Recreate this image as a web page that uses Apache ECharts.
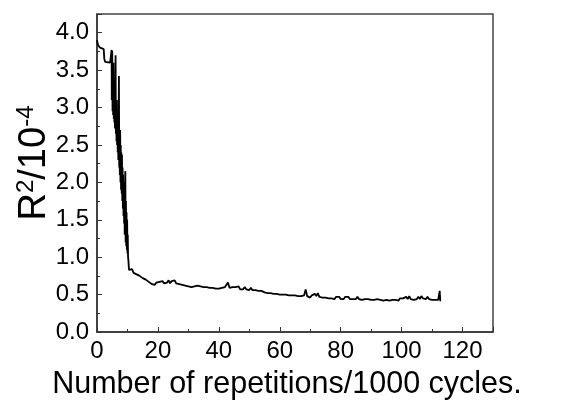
<!DOCTYPE html>
<html>
<head>
<meta charset="utf-8">
<script src="https://cdn.jsdelivr.net/npm/echarts@6/dist/echarts.min.js"></script>
<style>html,body{margin:0;padding:0;background:#fff}#c{width:575px;height:401px}</style>
</head>
<body>
<div id="c"></div>
<script>
// Initial plateau segment [x, y]
const startSegment = [[0,3.90],[0.3,3.84],[1.0,3.80],[1.5,3.79],[2.2,3.78],[2.4,3.65],[2.7,3.61],[4.3,3.60],[4.6,3.62],[4.8,3.77]];
// Rapid oscillating drop [x, y]
const dropSegment = [[4.85,3.1],[4.9,3.5],[5.0,3.76],[5.1,2.95],[5.2,3.5],[5.3,2.9],[5.4,3.6],[5.5,2.85],[5.6,3.3],[5.7,2.8],[5.8,3.3],[5.9,2.72],[6.0,3.2],[6.1,3.70],[6.2,2.65],[6.3,3.0],[6.4,2.55],[6.5,3.1],[6.6,2.5],[6.7,2.95],[6.8,2.4],[6.9,2.9],[7.0,2.3],[7.1,2.8],[7.2,3.42],[7.3,2.2],[7.4,2.6],[7.5,2.1],[7.6,2.7],[7.7,2.0],[7.8,2.5],[7.9,1.9],[8.0,2.4],[8.1,1.85],[8.2,2.37],[8.3,1.75],[8.4,2.2],[8.5,1.65],[8.6,2.1],[8.7,1.55],[8.8,2.0],[8.9,1.45],[9.0,1.9],[9.1,1.3],[9.2,1.8],[9.3,2.15],[9.4,1.2],[9.5,1.75],[9.6,1.15],[9.7,1.6],[9.8,1.1],[9.9,1.5],[10.0,1.05],[10.1,1.3],[10.2,1.0],[10.3,0.96],[10.5,0.83],[10.8,0.81]];
// Slow tail: x from tailStart, every tailStep
const tailStart = 11.0;
const tailStep = 0.5;
const tailValues = [
0.81,0.84,0.79,0.81,0.77,0.79,0.75,0.77,0.72,0.74,0.70,0.72,0.67,0.69,0.64,0.66,0.63,0.66,
0.64,0.67,0.65,0.68,0.65,0.67,0.66,0.69,0.65,0.68,0.66,0.69,0.65,0.67,0.64,0.66,0.63,0.65,0.62,0.64,
0.61,0.63,0.60,0.62,0.61,0.63,0.62,0.64,0.61,0.63,0.60,0.62,0.60,0.62,0.59,0.61,0.59,0.61,0.58,0.60,
0.58,0.60,0.59,0.61,0.60,0.63,0.66,0.59,0.58,0.60,0.58,0.60,0.58,0.61,0.57,0.59,0.57,0.60,0.57,0.59,
0.56,0.59,0.56,0.58,0.56,0.58,0.55,0.57,0.55,0.57,0.53,0.55,0.52,0.54,0.52,0.54,0.51,0.53,0.51,0.53,
0.50,0.52,0.50,0.52,0.50,0.52,0.49,0.51,0.49,0.51,0.49,0.51,0.48,0.50,0.48,0.50,0.49,0.57,0.48,0.47,
0.46,0.49,0.47,0.51,0.48,0.52,0.47,0.49,0.46,0.48,0.46,0.48,0.45,0.47,0.45,0.47,0.44,0.47,0.45,0.47,
0.44,0.46,0.44,0.47,0.45,0.47,0.44,0.46,0.44,0.46,0.44,0.47,0.44,0.46,0.43,0.45,0.44,0.46,0.44,0.46,
0.43,0.45,0.43,0.45,0.44,0.46,0.43,0.45,0.42,0.44,0.43,0.45,0.42,0.44,0.43,0.45,0.43,0.45,0.42,0.45,
0.43,0.45,0.44,0.47,0.44,0.48,0.44,0.46,0.43,0.45,0.44,0.47,0.44,0.48,0.45,0.47,0.44,0.47,0.44,0.46,
0.43,0.45,0.43,0.45,0.43,0.55
];
const endSegment = [[112.7,0.41]];

const xTicks = [0,20,40,60,80,100,120];
const yTicks = [0.0,0.5,1.0,1.5,2.0,2.5,3.0,3.5,4.0];

const data = startSegment.concat(dropSegment,
  tailValues.map((v,i)=>[tailStart + i*tailStep, v]), endSegment);

const chart = echarts.init(document.getElementById('c'), null, {renderer:'canvas'});
const font = 'Liberation Sans, Arial, sans-serif';
chart.setOption({
  animation:false,
  backgroundColor:'#fff',
  grid:{left:97,right:82,top:14,bottom:69,containLabel:false,outerBoundsMode:'none',
    show:true,borderColor:'#444',borderWidth:1.5,backgroundColor:'transparent'},
  xAxis:{
    type:'value',min:0,max:130,interval:20,
    name:'Number of repetitions/1000 cycles.',nameLocation:'middle',nameGap:37,
    nameTextStyle:{fontFamily:font,fontSize:30.5,color:'#000',padding:[0,16,0,0]},
    axisLine:{show:true,lineStyle:{color:'#333',width:1.5}},
    axisTick:{show:true,inside:true,length:5,lineStyle:{color:'#333'}},
    minorTick:{show:true,splitNumber:2,length:3,lineStyle:{color:'#333'}},
    splitLine:{show:false},
    axisLabel:{fontFamily:font,fontSize:24,color:'#000',margin:7,showMaxLabel:false,
      formatter:v=>xTicks.includes(v)?String(v):''}
  },
  yAxis:{
    type:'value',min:0,max:4.25,interval:0.5,
    name:'R{s|2}/10{s|-4}',nameLocation:'middle',nameGap:41,nameRotate:90,nameMoveOverlap:false,
    nameTextStyle:{fontFamily:font,fontSize:38,color:'#000',padding:[0,0,0,20],
      rich:{s:{fontFamily:font,fontSize:24,verticalAlign:'top',padding:[0,0,18,0],color:'#000'}}},
    axisLine:{show:true,lineStyle:{color:'#333',width:1.5}},
    axisTick:{show:true,inside:true,length:5,lineStyle:{color:'#333'}},
    minorTick:{show:true,splitNumber:2,length:3,lineStyle:{color:'#333'}},
    splitLine:{show:false},
    axisLabel:{fontFamily:font,fontSize:24,color:'#000',margin:8,showMaxLabel:false,
      formatter:v=>{const t=yTicks.find(y=>Math.abs(y-v)<1e-9);return t===undefined?'':t.toFixed(1);}}
  },
  series:[{
    type:'line',data:data,showSymbol:false,symbol:'none',
    lineStyle:{color:'#000',width:1.8},
    silent:true
  }]
});
</script>
</body>
</html>
